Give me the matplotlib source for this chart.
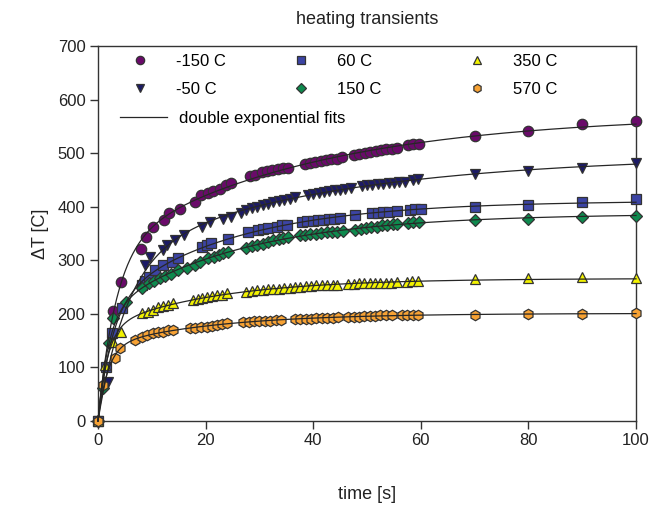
import numpy as np
import matplotlib
matplotlib.use("Agg")
import matplotlib.pyplot as plt
from matplotlib.lines import Line2D

plt.rcParams['font.family'] = ['Liberation Sans', 'DejaVu Sans']

# ---- measured heating transients (time [s], delta T [C]) ----
t_m150 = [0, 2.8, 4.2, 8, 9, 10.2, 12.2, 13.2, 15.2, 18, 19.2, 20.4, 21.4, 22.6, 23.8, 24.8,
          28.2, 29.2, 30.4, 31.4, 32.4, 33.4, 34.4, 35.4, 38.4, 39.4, 40.4, 41.4, 42.4, 43.4,
          44.4, 45.4, 47.6, 48.6, 49.6, 50.6, 51.6, 52.6, 53.6, 54.6, 55.6, 57.6, 58.6, 59.6,
          70, 80, 90, 100]
y_m150 = [0, 205, 259, 322, 344, 362, 375, 389, 395, 409, 421, 425, 430, 434, 440, 444,
          457, 459, 464, 466, 468, 470, 472, 473, 479, 481, 483, 485, 487, 489,
          490, 492, 497, 499, 501, 502, 504, 505, 507, 508, 510, 515, 517, 518,
          532, 541, 554, 560]

t_m50 = [0, 1.9, 8.7, 9.7, 12.1, 12.8, 14.3, 15.9, 19.3, 20.8, 23.3, 24.8, 26.5, 27.5, 28.6,
         29.6, 30.6, 31.6, 32.6, 33.6, 34.6, 35.6, 36.6, 39, 40, 41, 42, 43, 44, 45, 46, 47,
         49, 50, 51, 52, 53, 54, 55, 56, 57, 58.5, 59.5, 70, 80, 90, 100]
y_m50 = [0, 73, 291, 307, 319, 328, 337, 347, 363, 372, 378, 381, 388, 393, 397,
         400, 403, 406, 408, 411, 413, 415, 418, 422, 424, 426, 428, 429, 431, 432, 434, 435,
         439, 440, 441, 442, 443, 444, 445, 446, 447, 450, 452, 462, 467, 473, 481]

t_60 = [0, 1.5, 2.7, 4.5, 8.1, 8.8, 9.4, 10.6, 12.1, 13.7, 14.9, 19.3, 20.2, 21.1, 24.2, 27.9,
        29.7, 30.7, 31.6, 33.2, 34.2, 35.1, 37.9, 38.9, 39.9, 40.9, 41.9, 42.9, 43.9, 44.9,
        47.8, 51, 52, 53, 54, 55.6, 58, 59, 60, 70, 80, 90, 100]
y_60 = [0, 100, 165, 210, 254, 262, 269, 282, 291, 297, 305, 325, 329, 332, 340, 353,
        357, 358, 360, 363, 365, 366, 371, 373, 374, 375, 376, 377, 378, 379,
        384, 388, 389, 390, 391, 392, 394, 395, 395, 400, 404, 409, 414]

t_150 = [0, 1.0, 2.0, 2.8, 5.3, 8.1, 9.5, 10.5, 11.5, 12.5, 13.5, 14.9, 16.5, 18, 19, 20.5,
         21.5, 22.5, 23.3, 24.2, 27.6, 28.6, 29.6, 30.6, 31.6, 32.6, 33.6, 34.4, 35.3, 37.5,
         38.5, 39.5, 40.5, 41.5, 42.5, 43.5, 44.5, 45.5, 47.8, 48.8, 49.8, 50.8, 51.8, 52.8,
         53.8, 54.8, 55.6, 57.6, 58.6, 59.6, 70, 80, 90, 100]
y_150 = [0, 62, 145, 192, 223, 248, 258, 262, 266, 270, 275, 282, 286, 291, 296, 304,
         307, 310, 313, 316, 323, 326, 329, 331, 334, 337, 340, 342, 344, 347,
         348, 349, 350, 351, 352, 352, 353, 354, 357, 359, 361, 362, 363, 365,
         366, 367, 368, 370, 371, 372, 376, 378, 380, 383]

t_350 = [0, 1.3, 2.8, 4.2, 8.1, 9.3, 10.2, 11.2, 12.1, 13, 14, 17.7, 18.5, 19.3, 20.2, 21.2,
         22.1, 23, 23.9, 27.6, 28.6, 29.6, 30.6, 31.6, 32.6, 33.6, 34.6, 35.6, 36.6, 37.6,
         38.6, 39.6, 40.6, 41.6, 42.6, 43.6, 44.4, 46.5, 47.5, 48.5, 49.5, 50.5, 51.5, 52.5,
         53.5, 54.5, 55.5, 57.4, 58.4, 59.4, 70, 80, 90, 100]
y_350 = [0, 104, 148, 167, 201, 204, 208, 213, 215, 217, 220, 226, 228, 229, 231, 233,
         235, 236, 238, 241, 243, 244, 245, 246, 247, 247, 248, 248, 251, 251,
         252, 252, 253, 253, 253, 254, 254, 256, 256, 257, 257, 257, 258, 258,
         258, 258, 259, 260, 261, 262, 265, 267, 268, 266]

t_570 = [0, 1, 3.2, 4.1, 6.9, 8.1, 9.2, 10.3, 11.2, 12.1, 13, 14, 17.1, 18.1, 19.1, 20.2,
         21.2, 22.1, 23, 23.9, 27, 28, 29, 30, 31, 32, 33, 34, 36.6, 37.6, 38.6, 39.6, 40.6,
         41.6, 42.6, 43.6, 44.6, 46.5, 47.5, 48.5, 49.5, 50.5, 51.5, 52.5, 53.5, 54.6, 56.5,
         57.5, 58.5, 59.5, 70, 80, 90, 100]
y_570 = [0, 67, 117, 136, 151, 157, 160, 164, 166, 167, 169, 170, 173, 174, 175, 176,
         178, 179, 181, 182, 185, 185, 186, 186, 187, 187, 188, 188, 190, 190, 191, 191, 192,
         192, 193, 193, 194, 195, 195, 195, 196, 196, 196, 197, 197, 197, 197,
         198, 198, 198, 198, 200, 200, 201]

labels = ['-150 C', '-50 C', '60 C', '150 C', '350 C', '570 C']
times = [t_m150, t_m50, t_60, t_150, t_350, t_570]
values = [y_m150, y_m50, y_60, y_150, y_350, y_570]
markers = ['o', 'v', 's', 'D', '^', 'h']
colors = ['#6a0a6a', '#1c1a66', '#3c44a4', '#0e8a4e', '#f2f200', '#f7a234']
msizes = [7.5, 7.5, 7.0, 6.0, 7.0, 7.5]


def double_exp_fit(t, y):
    """Least-squares fit of y = A1(1-exp(-t/tau1)) + A2(1-exp(-t/tau2))."""
    t = np.asarray(t, float)
    y = np.asarray(y, float)
    best = None
    for tau1 in np.logspace(-0.6, 1.2, 70):
        for tau2 in np.logspace(0.7, 2.8, 70):
            if tau2 <= tau1:
                continue
            basis = np.column_stack([1 - np.exp(-t / tau1), 1 - np.exp(-t / tau2)])
            coef, *_ = np.linalg.lstsq(basis, y, rcond=None)
            sse = np.sum((basis @ coef - y) ** 2)
            if best is None or sse < best[0]:
                best = (sse, tau1, tau2, coef)
    _, tau1, tau2, (a1, a2) = best
    return lambda tt: a1 * (1 - np.exp(-tt / tau1)) + a2 * (1 - np.exp(-tt / tau2))


fig = plt.figure(figsize=(6.54, 5.08), dpi=100)
ax = fig.add_axes([0.1498, 0.1713, 0.8227, 0.7381])

t_fine = np.linspace(0, 100, 600)
handles = []
for t, y, m, c, ms, lab in zip(times, values, markers, colors, msizes, labels):
    h, = ax.plot(t, y, linestyle='none', marker=m, ms=ms, mfc=c, mec='#333333', mew=0.9,
                 clip_on=False, zorder=3, label=lab)
    handles.append(h)
    f = double_exp_fit(t, y)
    ax.plot(t_fine, f(t_fine), color='#262626', lw=0.9, zorder=4, clip_on=False)

ax.set_xlim(0, 100)
ax.set_ylim(0, 700)
ax.set_xticks(range(0, 101, 20))
ax.set_yticks(range(0, 701, 100))
for s in ax.spines.values():
    s.set_color('#333333')
    s.set_linewidth(1.0)
ax.tick_params(direction='out', length=6, width=1.0, color='#333333',
               labelsize=12, labelcolor='#222222', pad=3)

ax.set_xlabel('time [s]', fontsize=13, color='#222222', labelpad=27)
ax.set_ylabel('\u0394T [C]', fontsize=13, color='#222222', labelpad=6)
ax.set_title('heating transients', fontsize=13, color='#222222', pad=16)

# legend: three marker columns, then the fit-line entry underneath
col_x = [0.0626, 0.362, 0.689]
for i, x0 in enumerate(col_x):
    leg = ax.legend(handles[2 * i:2 * i + 2], labels[2 * i:2 * i + 2],
                    loc='upper left', bbox_to_anchor=(x0, 0.979), frameon=False,
                    fontsize=12, handlelength=1.0, handletextpad=1.66,
                    labelspacing=0.79, borderpad=0.0, borderaxespad=0.0,
                    markerscale=0.8)
    ax.add_artist(leg)

fit_handle = Line2D([0], [0], color='#262626', lw=0.9)
ax.legend([fit_handle], ['double exponential fits'], loc='upper left',
          bbox_to_anchor=(0.0409, 0.827), frameon=False, fontsize=12,
          handlelength=2.82, handletextpad=0.72, borderpad=0.0, borderaxespad=0.0)

fig.savefig('out.png', dpi=100)
